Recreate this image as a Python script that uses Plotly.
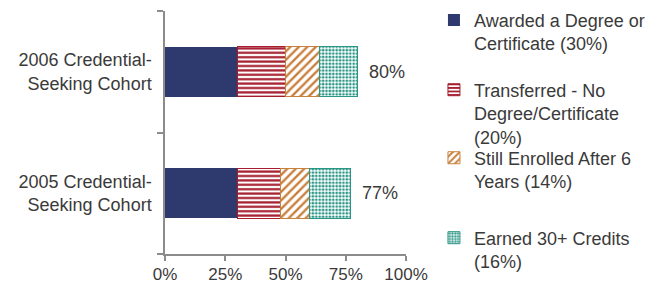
import plotly.graph_objects as go

categories = ["2005 Credential-<br>Seeking Cohort", "2006 Credential-<br>Seeking Cohort"]
series_names = [
    "Awarded a Degree or<br>Certificate (30%)",
    "Transferred - No<br>Degree/Certificate<br>(20%)",
    "Still Enrolled After 6<br>Years (14%)",
    "Earned 30+ Credits<br>(16%)",
]
awarded = [30, 30]
transferred = [18, 20]
still_enrolled = [12, 14]
earned_30 = [17, 16]
x_ticks = [0, 25, 50, 75, 100]

series_values = [awarded, transferred, still_enrolled, earned_30]
colors = ["#2E3A6E", "#A51E2E", "#C8803E", "#2A9686"]
patterns = ["", "-", "/", "."]
pat_sizes = [8, 4.4, 6, 3.4]
pat_solid = [0.3, 0.5, 0.4, 0.5]
legend_ids = ["legend", "legend2", "legend3", "legend4"]
legend_y = [1.038, 0.751, 0.471, 0.142]

FONT = "Arial, Liberation Sans, sans-serif"
FS = 18
TXT = "#3a3a3a"
AX = "#8c8c8c"

fig = go.Figure()
for i, (name, vals) in enumerate(zip(series_names, series_values)):
    marker = dict(color=colors[i], line=dict(color=colors[i], width=1 if i else 0))
    if patterns[i]:
        marker["pattern"] = dict(shape=patterns[i], fgcolor=colors[i], bgcolor="white",
                                 size=pat_sizes[i], solidity=pat_solid[i], fillmode="replace")
    fig.add_trace(go.Bar(
        y=categories, x=vals, name=name, orientation="h", marker=marker,
        legend=legend_ids[i], showlegend=True, hoverinfo="skip",
    ))

totals = [sum(v[j] for v in series_values) for j in range(len(categories))]
for cat, tot in zip(categories, totals):
    fig.add_annotation(x=tot, y=cat, text=f"{tot}%", showarrow=False, xanchor="left",
                       xshift=9, font=dict(family=FONT, size=FS, color=TXT))

layout_legends = {}
for lid, ly in zip(legend_ids, legend_y):
    layout_legends[lid] = dict(x=1.116, y=ly, xanchor="left", yanchor="top",
                               bgcolor="rgba(0,0,0,0)", valign="top",
                               font=dict(family=FONT, size=FS, color=TXT),
                               itemclick=False, itemdoubleclick=False)

# page body has an 8px default margin, so the figure is sized to fit the 662x283 window
fig.update_layout(
    width=654, height=275, autosize=False,
    margin=dict(l=157, r=256, t=3, b=29, autoexpand=False),
    barmode="stack", bargap=0.59,
    plot_bgcolor="white", paper_bgcolor="white",
    font=dict(family=FONT, size=FS, color=TXT),
    **layout_legends,
)
fig.update_xaxes(range=[0, 100], tickvals=x_ticks, ticktext=[f"{t}%" for t in x_ticks],
                 showgrid=False, zeroline=False, showline=True, linecolor=AX, linewidth=1.5,
                 ticks="outside", ticklen=5, tickcolor=AX, tickwidth=1.5, automargin=False,
                 ticklabelstandoff=-1,
                 tickfont=dict(family=FONT, size=17, color=TXT), fixedrange=True)
fig.update_yaxes(type="category", categoryorder="array", categoryarray=categories,
                 range=[-0.5, 1.5], tickson="boundaries",
                 showgrid=False, zeroline=False, showline=True, linecolor=AX, linewidth=1.5,
                 ticks="outside", ticklen=6, tickcolor=AX, tickwidth=1.5, automargin=False,
                 ticklabelstandoff=8,
                 tickfont=dict(family=FONT, size=FS, color=TXT), fixedrange=True)

fig.write_html("out.html")
